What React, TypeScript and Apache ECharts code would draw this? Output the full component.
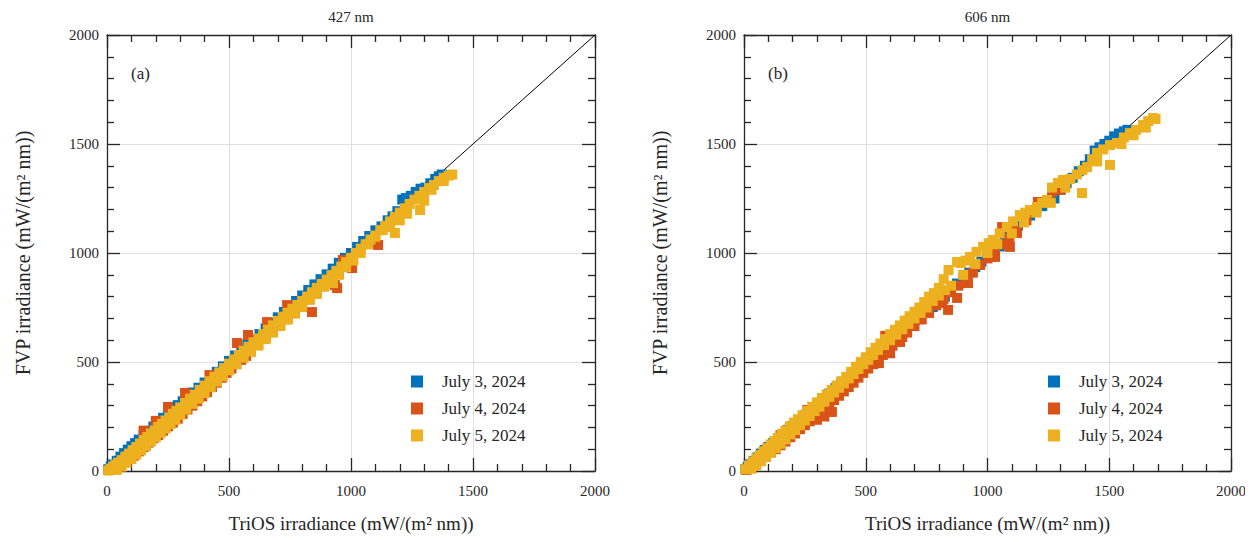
import React, { useEffect, useRef } from "react";
import * as echarts from "echarts";

const seriesNames = ["July 3, 2024", "July 4, 2024", "July 5, 2024"];
const panelTitles = ["427 nm", "606 nm"];
const panelTags = ["(a)", "(b)"];
const axisTicks = [0, 500, 1000, 1500, 2000];
const colors = ["#0072BD", "#D95319", "#EDB120"];

const blueA: number[][] = [
  [5,8],[15,20],[25,30],[40,47],[55,66],[70,82],[85,98],[100,114],[115,128],[130,144],[150,164],[170,184],[190,204],[210,224],[230,244],[250,264],[270,284],[290,302],[310,320],[330,340],[350,360],[375,382],[400,406],[425,430],[450,455],[475,480],[500,505],[525,530],[550,555],[575,581],[600,606],[625,628],[650,654],[675,680],[700,705],[725,730],[750,755],[775,780],[800,805],[825,830],[850,856],[875,880],[900,902],[925,928],[950,955],[975,978],[1000,1000],[1025,1028],[1050,1055],[1075,1078],[1100,1104],[1125,1122],[1150,1150],[1170,1168],[1190,1192],[1210,1245],[1225,1252],[1245,1262],[1265,1280],[1285,1295],[1305,1300],[1325,1320],[1345,1340],[1360,1352],[1372,1360]
];
const orangeA: number[][] = [
  [10,5],[30,15],[50,25],[70,40],[90,55],[110,70],[130,90],[150,110],[170,130],[190,150],[210,165],[230,185],[250,205],[270,222],[290,240],[310,262],[330,282],[350,300],[370,320],[390,342],[410,362],[430,385],[450,405],[470,428],[490,450],[510,470],[530,490],[550,510],[570,528],[590,548],[620,580],[650,612],[680,640],[710,670],[740,700],[770,728],[800,760],[830,790],[860,820],[890,850],[920,880],[950,905],[980,940],
  [150,185],[200,230],[250,294],[320,358],[420,440],[533,587],[578,624],[656,683],[738,761],[840,729],[934,853],[943,839],[967,968],[1004,931],[1111,1037]
];
const yellowA: number[][] = [
  [5,2],[15,10],[25,20],[35,28],[45,38],[60,50],[75,66],[90,80],[105,96],[120,110],[135,126],[150,142],[165,156],[180,172],[195,186],[210,202],[225,216],[240,232],[255,246],[270,262],[285,276],[300,292],[320,312],[340,332],[360,350],[380,372],[400,392],[420,412],[440,432],[460,452],[480,472],[500,492],[520,512],[540,532],[560,552],[580,570],[600,590],[620,608],[640,628],[660,648],[680,668],[700,688],[720,708],[740,726],[760,744],[780,762],[800,780],[820,800],[840,820],[860,840],[880,858],[900,878],[920,898],[940,918],[960,938],[980,958],[1000,978],[1020,1000],[1040,1020],[1060,1040],[1080,1062],[1100,1080],[1120,1105],[1140,1125],[1160,1145],[1180,1165],[1200,1185],[1220,1205],[1240,1225],[1260,1245],[1280,1262],[1300,1280],[1320,1298],[1340,1312],[1360,1330],[1380,1345],[1400,1355],[1415,1360],
  [40,5],[60,20],[80,38],[100,55],[120,75],[140,95],[160,115],[180,135],[200,155],[220,175],[240,195],[260,215],[280,235],[300,258],[325,282],[350,308],[375,332],[400,358],[425,385],[450,410],[475,435],[500,462],[530,490],[560,520],[590,548],[620,575],[650,605],[680,635],[710,665],[740,694],[770,722],[800,752],[830,785],[860,812],[890,845],[926,862],[950,900],[980,935],[1010,965],[1040,1000],[1070,1040],[1100,1075],[1130,1105],[1160,1119],[1180,1092],[1200,1150],[1230,1180],[1283,1197],[1300,1240],[1330,1290],[1380,1330]
];

const blueB: number[][] = [
  [5,8],[15,18],[25,30],[40,45],[55,62],[70,80],[85,96],[100,110],[120,128],[140,148],[160,168],[180,188],[200,206],[225,230],[250,255],[275,280],[300,305],[325,330],[350,355],[375,380],[400,405],[425,428],[450,452],[475,478],[500,502],[525,528],[550,552],[575,578],[600,600],[625,622],[650,648],[675,670],[700,690],[725,712],[750,730],[775,752],[800,778],[825,800],[850,830],[875,860],[900,885],[925,910],[950,935],[975,960],[1000,985],[1025,1010],[1050,1030],[1070,1055],[1085,1080],[1100,1100],[1125,1125],[1150,1148],[1175,1172],[1200,1195],[1225,1215],[1250,1235],[1275,1250],[1300,1290],[1325,1320],[1350,1345],[1375,1375],[1400,1400],[1420,1430],[1440,1470],[1460,1485],[1480,1500],[1500,1515],[1520,1535],[1540,1548],[1560,1558],[1575,1565]
];
const orangeB: number[][] = [
  [10,5],[30,15],[50,30],[70,48],[90,65],[110,85],[130,100],[150,118],[170,135],[190,155],[210,172],[230,192],[250,210],[270,228],[290,245],[310,265],[330,285],[350,305],[370,325],[390,345],[410,365],[430,385],[450,405],[470,428],[490,450],[510,470],[530,490],[550,512],[570,532],[590,555],[610,575],[630,595],[650,615],[670,635],[700,665],[730,695],[760,725],[790,760],[820,790],[850,820],[880,850],[910,880],[940,910],[970,945],[1000,975],[1030,1005],[1060,1040],[1090,1070],[1120,1100],[1160,1150],[1200,1190],[1250,1240],[1300,1290],
  [150,165],[260,280],[300,235],[330,250],[361,271],[554,495],[580,620],[600,540],[641,592],[813,771],[838,739],[875,794],[920,862],[1031,982],[1060,1119],[1092,1028],[1121,1092],[1207,1234],[1265,1280]
];
const yellowB: number[][] = [
  [5,8],[20,25],[35,42],[50,58],[65,73],[80,90],[95,105],[110,122],[125,138],[140,152],[155,168],[170,185],[188,205],[205,222],[222,238],[240,255],[260,275],[280,295],[300,315],[320,335],[340,352],[360,372],[380,392],[400,412],[420,432],[440,455],[460,478],[480,500],[500,522],[520,545],[540,565],[560,585],[580,605],[600,628],[620,648],[640,668],[660,690],[680,710],[700,730],[720,750],[740,775],[760,800],[780,816],[800,840],[820,880],[840,922],[875,959],[890,954],[910,965],[928,982],[955,1005],[982,1028],[1005,1045],[1023,1060],[1050,1090],[1080,1119],[1105,1145],[1133,1174],[1155,1185],[1174,1197],[1203,1211],[1225,1230],[1244,1243],[1265,1300],[1290,1321],[1310,1335],[1340,1340],[1367,1360],[1390,1380],[1409,1394],[1430,1430],[1450,1459],[1475,1475],[1503,1495],[1532,1505],[1560,1530],[1585,1550],[1610,1565],[1639,1587],[1660,1605],[1680,1619],[1690,1615],
  [30,10],[50,25],[70,45],[90,65],[110,85],[130,105],[150,125],[170,145],[190,168],[210,188],[230,210],[250,232],[270,252],[290,275],[310,295],[330,318],[350,340],[370,360],[390,382],[410,402],[430,425],[450,445],[470,468],[490,490],[510,510],[530,532],[550,555],[575,578],[600,600],[625,625],[650,650],[675,675],[700,700],[725,725],[750,750],[775,780],[800,805],[825,830],[850,850],[900,900],[950,950],[1000,1000],[1040,1040],[1100,1090],[1150,1140],[1200,1185],[1260,1230],[1320,1300],[1388,1275],[1450,1420],[1503,1404],[1550,1500],[1600,1540],[1650,1575]
];
const diagonal: number[][] = [[0, 0], [2000, 2000]];

const panelData = [
  [blueA, orangeA, yellowA],
  [blueB, orangeB, yellowB],
];

const FONT = "Liberation Serif, Times New Roman, serif";
const INK = "#262626";

export default function App() {
  const ref = useRef<HTMLDivElement>(null);
  useEffect(() => {
    if (!ref.current) return;
    const chart = echarts.init(ref.current, undefined, { renderer: "svg" });
    const grids = [
      { left: 107, top: 35, width: 488, height: 436 },
      { left: 744, top: 35, width: 487, height: 436 },
    ];
    const xAxes: any[] = [];
    const yAxes: any[] = [];
    const series: any[] = [];
    const legends: any[] = [];
    const graphics: any[] = [];
    const tickLabelFmt = (v: number) => (axisTicks.includes(v) ? String(v) : "");
    grids.forEach((g, gi) => {
      const common = {
        gridIndex: gi,
        type: "value",
        min: 0,
        max: 2000,
        interval: 500,
        axisLine: { show: true, onZero: false, lineStyle: { color: INK, width: 1.3 } },
        axisTick: { show: true, inside: true, length: 13, lineStyle: { color: INK, width: 1.3 } },
        minorTick: { show: true, splitNumber: 5, length: 7, lineStyle: { color: INK, width: 1.3 } },
      };
      xAxes.push({
        ...common,
        position: "bottom",
        name: "TriOS irradiance (mW/(m\u00B2 nm))",
        nameLocation: "middle",
        nameGap: 43,
        nameTextStyle: { fontFamily: FONT, fontSize: 19, color: INK },
        axisLabel: { margin: 12, fontFamily: FONT, fontSize: 15, color: INK, formatter: tickLabelFmt },
        splitLine: { show: true, lineStyle: { color: "#dfdfdf", width: 1 } },
      });
      xAxes.push({
        ...common,
        position: "top",
        axisLabel: { show: false },
        splitLine: { show: false },
      });
      yAxes.push({
        ...common,
        position: "left",
        name: "FVP irradiance (mW/(m\u00B2 nm))",
        nameLocation: "middle",
        nameGap: 74,
        nameTextStyle: { fontFamily: FONT, fontSize: 20, color: INK },
        axisLabel: { margin: 8, fontFamily: FONT, fontSize: 15, color: INK, formatter: tickLabelFmt },
        splitLine: { show: true, lineStyle: { color: "#dfdfdf", width: 1 } },
      });
      yAxes.push({
        ...common,
        position: "right",
        axisLabel: { show: false },
        splitLine: { show: false },
      });
      series.push({
        type: "line",
        name: "diag" + gi,
        xAxisIndex: gi * 2,
        yAxisIndex: gi * 2,
        data: diagonal,
        symbol: "none",
        lineStyle: { color: "#000", width: 1 },
        z: 1,
        silent: true,
      });
      panelData[gi].forEach((d, si) => {
        series.push({
          type: "scatter",
          name: seriesNames[si],
          xAxisIndex: gi * 2,
          yAxisIndex: gi * 2,
          data: d,
          symbol: "rect",
          symbolSize: 10,
          itemStyle: { color: colors[si], opacity: 1 },
          z: 2 + si,
        });
      });
      legends.push({
        data: seriesNames,
        orient: "vertical",
        left: g.left + 304,
        top: 373,
        padding: 0,
        itemWidth: 12,
        itemHeight: 12,
        itemGap: 10,
        icon: "rect",
        selectedMode: false,
        textStyle: { fontFamily: FONT, fontSize: 17, color: INK, lineHeight: 17, padding: [0, 0, 0, 14] },
      });
      graphics.push({
        type: "text",
        x: g.left + g.width / 2,
        y: 17,
        style: {
          text: panelTitles[gi],
          fontFamily: FONT,
          fontSize: 15,
          fill: INK,
          align: "center",
          verticalAlign: "middle",
        },
      });
      graphics.push({
        type: "text",
        x: g.left + 24,
        y: 73,
        style: {
          text: panelTags[gi],
          fontFamily: FONT,
          fontSize: 17,
          fill: INK,
          align: "left",
          verticalAlign: "middle",
        },
      });
    });
    chart.setOption({
      animation: false,
      backgroundColor: "#fff",
      grid: grids,
      xAxis: xAxes,
      yAxis: yAxes,
      legend: legends,
      series,
      graphic: graphics,
    });
    return () => chart.dispose();
  }, []);
  return <div ref={ref} style={{ width: 1253, height: 542, margin: -8 }} />;
}
